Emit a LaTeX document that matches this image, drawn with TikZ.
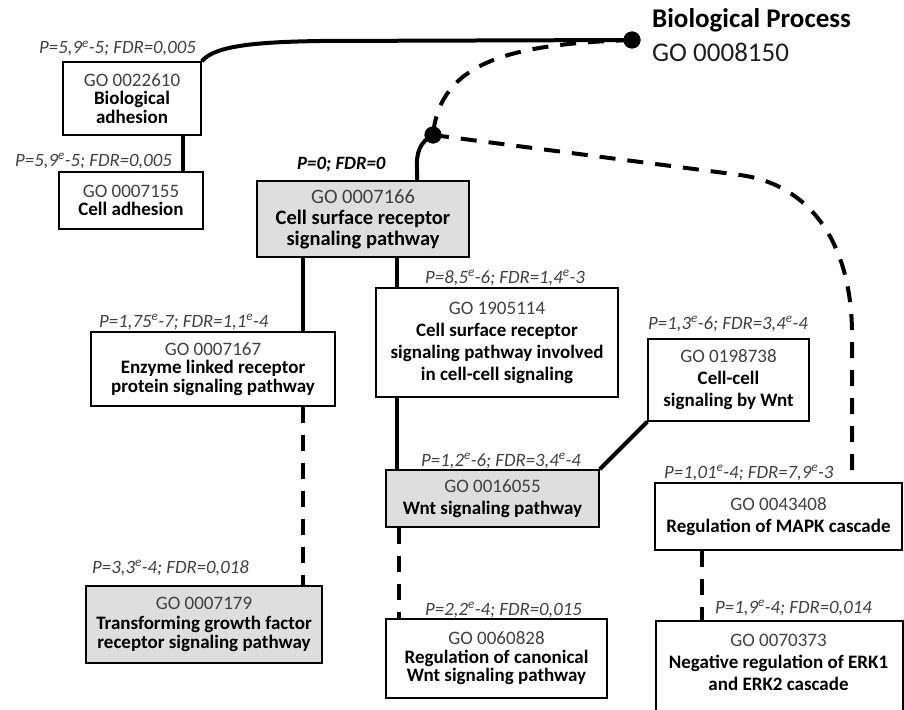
\documentclass[tikz,border=0pt]{standalone}
\usepackage{fontspec}
\setmainfont{Carlito}
\usetikzlibrary{calc}
\definecolor{boxgray}{RGB}{222,222,222}
\definecolor{txtgray}{RGB}{64,64,64}
\newcommand{\bxfont}{\fontsize{19}{18.5}\selectfont}
\newcommand{\wbxfont}{\fontsize{19}{22}\selectfont}
\newcommand{\bigbxfont}{\fontsize{20.5}{21}\selectfont}
\newcommand{\lbfont}{\fontsize{18.8}{20}\selectfont\itshape}
\newcommand{\ee}{\textsuperscript{e}}
\newcommand{\goid}[1]{\textcolor{txtgray}{GO #1}}
\begin{document}
\begin{tikzpicture}[x=1pt,y=-1pt,
  box/.style={draw, line width=1.5pt, fill=white, align=center, inner sep=0pt, font=\bxfont},
  graybox/.style={box, fill=boxgray},
  lab/.style={font=\lbfont, text=txtgray, anchor=base west, inner sep=0pt},
  conn/.style={line width=4pt},
  dconn/.style={line width=4pt, dash pattern=on 16pt off 12pt},
  dot/.style={circle, fill=black, minimum size=17pt, inner sep=0pt}]
\useasboundingbox (0,0) rectangle (904,709);
\clip (0,0) rectangle (904,709);
% root
\node[anchor=base west, inner sep=0pt, font=\fontsize{27}{30}\selectfont\bfseries] (BP) at (652,28) {Biological Process};
\node[anchor=base west, inner sep=0pt, font=\fontsize{27}{30}\selectfont, text={rgb,255:red,30;green,30;blue,30}] (BPid) at (652,62) {GO 0008150};
% boxes
\node[box, minimum width=138, minimum height=73] (A) at (132,98.5) {\goid{0022610}\\\textbf{Biological}\\\textbf{adhesion}};
\node[box, minimum width=144, minimum height=57] (B) at (131,200.5) {\goid{0007155}\\\textbf{Cell adhesion}};
\node[graybox, minimum width=212, minimum height=76, font=\bigbxfont] (C) at (363,219) {\goid{0007166}\\\textbf{Cell surface receptor}\\\textbf{signaling pathway}};
\node[box, minimum width=244, minimum height=74] (D) at (213,369) {\goid{0007167}\\\textbf{Enzyme linked receptor}\\\textbf{protein signaling pathway}};
\node[box, minimum width=242, minimum height=109, font=\wbxfont] (E) at (497,342.5) {\goid{1905114}\\\textbf{Cell surface receptor}\\\textbf{signaling pathway involved}\\\textbf{in cell-cell signaling}};
\node[box, minimum width=161, minimum height=82, font=\wbxfont] (F) at (728.5,380) {\goid{0198738}\\\textbf{Cell-cell}\\\textbf{signaling by Wnt}};
\node[graybox, minimum width=213, minimum height=57, font=\wbxfont] (G) at (492.5,498.5) {\goid{0016055}\\\textbf{Wnt signaling pathway}};
\node[box, minimum width=247, minimum height=67, font=\wbxfont] (H) at (778.5,516.5) {\goid{0043408}\\\textbf{Regulation of MAPK cascade}};
\node[graybox, minimum width=236, minimum height=77, font=\fontsize{19}{19.5}\selectfont] (I) at (204,624.5) {\goid{0007179}\\\textbf{Transforming growth factor}\\\textbf{receptor signaling pathway}};
\node[box, minimum width=221, minimum height=79] (J) at (496.5,658.5) {\goid{0060828}\\\textbf{Regulation of canonical}\\\textbf{Wnt signaling pathway}};
\node[box, minimum width=247, minimum height=120, anchor=north west] (K) at (655,620) {};
\node[align=center, inner sep=0pt, font=\wbxfont] (Kt) at (778.5,662) {\goid{0070373}\\\textbf{Negative regulation of ERK1}\\\textbf{and ERK2 cascade}};
% labels
\node[lab] (lA) at (39,54) {P=5,9\ee-5; FDR=0,005};
\node[lab] (lB) at (15,166) {P=5,9\ee-5; FDR=0,005};
\node[lab, text=black, font=\lbfont\bfseries] (lC) at (297,169) {P=0; FDR=0};
\node[lab] (lD) at (99,327) {P=1,75\ee-7; FDR=1,1\ee-4};
\node[lab] (lE) at (425,283) {P=8,5\ee-6; FDR=1,4\ee-3};
\node[lab] (lF) at (648,329) {P=1,3\ee-6; FDR=3,4\ee-4};
\node[lab] (lG) at (421,466) {P=1,2\ee-6; FDR=3,4\ee-4};
\node[lab] (lH) at (664,478) {P=1,01\ee-4; FDR=7,9\ee-3};
\node[lab] (lI) at (92,573) {P=3,3\ee-4; FDR=0,018};
\node[lab] (lJ) at (425,615) {P=2,2\ee-4; FDR=0,015};
\node[lab] (lK) at (715,613) {P=1,9\ee-4; FDR=0,014};
% hub dots
\node[dot] (P0) at (632,40) {};
\node[dot] (P1) at (433,135) {};
% connectors
\draw[conn] (A.north east) .. controls (215,45) and (260,42) .. (320,41) -- (P0.center);
\draw[dconn] (P0.center) .. controls (510,44) and (440,62) .. (P1.center);
\draw[conn] (P1.center) .. controls (420,142) and (416,152) .. (417,170) -- ([xshift=54]C.north);
\draw[dconn] (P1.center) -- (740,175) .. controls (800,183) and (850,230) .. (852,330) -- ([xshift=73.5]H.north);
\draw[conn] ([xshift=51]A.south) -- ([xshift=51]A.south |- B.north);
\draw[conn] ([xshift=-60]C.south) -- ([xshift=-60]C.south |- D.north);
\draw[conn] ([xshift=34]C.south) -- ([xshift=34]C.south |- E.north);
\draw[conn] ([xshift=-100]E.south) -- ([xshift=-100]E.south |- G.north);
\draw[conn] (F.south west) -- (G.north east);
\draw[dconn] ([xshift=90]D.south) -- ([xshift=90]D.south |- I.north);
\draw[dconn] ([xshift=-93.5]G.south) -- ([xshift=-93.5]G.south |- J.north);
\draw[dconn] ([xshift=-76.5]H.south) -- ([xshift=-76.5]H.south |- K.north);
\node[dot] at (P0) {};
\node[dot] at (P1) {};
\end{tikzpicture}
\end{document}
